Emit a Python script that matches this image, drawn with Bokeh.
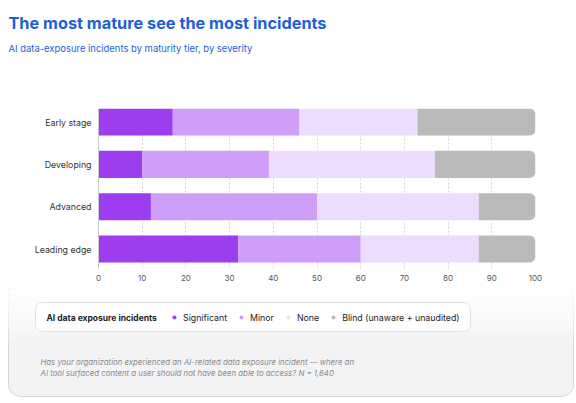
import numpy as np
from bokeh.plotting import figure
from bokeh.layouts import column
from bokeh.models import Range1d, FixedTicker, Legend, LegendItem, ColumnDataSource
from bokeh.core.properties import value
from bokeh.embed import file_html
from bokeh.resources import INLINE

tiers = ["Early stage", "Developing", "Advanced", "Leading edge"]
significant = [17, 10, 12, 32]
minor = [29, 29, 38, 28]
none_ = [27, 38, 37, 27]
blind = [27, 23, 13, 13]
series_names = ["Significant", "Minor", "None", "Blind (unaware + unaudited)"]
series_colors = ["#9d3df0", "#cf9ef9", "#eddcfd", "#bababa"]
x_ticks = [0, 10, 20, 30, 40, 50, 60, 70, 80, 90, 100]
title_text = "The most mature see the most incidents"
subtitle_text = "AI data-exposure incidents by maturity tier, by severity"
legend_title = "AI data exposure incidents"
note_lines = ["Has your organization experienced an AI-related data exposure incident \u2014 where an",
              "AI tool surfaced content a user should not have been able to access? N = 1,640"]

FONT = "Inter"
W = 576
TOP_H, MAIN_H, BOT_H = 95, 193, 115


def blank(h, y0):
    f = figure(width=W, height=h, output_backend="svg", toolbar_location=None,
               x_range=Range1d(0, W), y_range=Range1d(y0 + h, y0),
               x_axis_type=None, y_axis_type=None, frame_align=False,
               min_border=0, min_border_left=0, min_border_right=0,
               min_border_top=0, min_border_bottom=0)
    f.grid.visible = False
    f.outline_line_color = None
    f.background_fill_color = "white"
    f.border_fill_color = "white"
    return f


def txt(f, x, y, s, size, color, style="normal"):
    f.text(x=[x], y=[y], text=[s], text_font=value(FONT), text_font_size=value(size),
           text_font_style=style, text_color=color, text_baseline="middle",
           text_align="left")


# ---- header
top = blank(TOP_H, 0)
txt(top, 8, 22, title_text, "16.3px", "#1c5fd8", "bold")
txt(top, 8, 48, subtitle_text, "9.45px", "#1c5fd8")

# ---- main chart
p = figure(width=W, height=MAIN_H, output_backend="svg", toolbar_location=None,
           x_range=Range1d(0, 100), y_range=Range1d(-0.46, 3.32), frame_align=False,
           min_border_left=98, min_border_right=41, min_border_top=13,
           min_border_bottom=20)
p.outline_line_color = None
p.background_fill_color = "white"
p.border_fill_color = "white"

ypos = [len(tiers) - 1 - i for i in range(len(tiers))]
series = [significant, minor, none_, blind]
left = [0] * len(tiers)
for k, vals in enumerate(series):
    right = [l + v for l, v in zip(left, vals)]
    src = ColumnDataSource(dict(y=ypos, left=left, right=right))
    kw = {}
    if k == len(series) - 1:
        kw["border_radius"] = (0, 6, 6, 0)
    p.hbar(y="y", left="left", right="right", height=0.64, source=src,
           fill_color=series_colors[k], line_color=None, **kw)
    left = right

p.yaxis.ticker = FixedTicker(ticks=ypos)
p.yaxis.major_label_overrides = {y: t for y, t in zip(ypos, tiers)}
p.yaxis.major_tick_line_color = None
p.yaxis.major_tick_out = 0
p.yaxis.minor_tick_line_color = None
p.yaxis.axis_line_color = "#c8c8c8"
p.yaxis.major_label_text_font = FONT
p.yaxis.major_label_text_font_size = "8.8px"
p.yaxis.major_label_text_color = "#333333"
p.yaxis.major_label_standoff = 7

p.xaxis.ticker = FixedTicker(ticks=x_ticks)
p.xaxis.axis_line_color = None
p.xaxis.major_tick_line_color = None
p.xaxis.major_tick_out = 0
p.xaxis.minor_tick_line_color = None
p.xaxis.major_label_text_font = FONT
p.xaxis.major_label_text_font_size = "8px"
p.xaxis.major_label_text_color = "#555555"
p.xaxis.major_label_standoff = 6

p.ygrid.grid_line_color = None
p.xgrid.ticker = FixedTicker(ticks=x_ticks[1:])
p.xgrid.grid_line_color = "#d4d4d4"
p.xgrid.grid_line_dash = "2 2"

# ---- footer: card background, legend, note
bot = blank(BOT_H, TOP_H + MAIN_H)
y0 = TOP_H + MAIN_H
bot.quad(left=[8], right=[573], top=[y0 - 20], bottom=[396], fill_color="#f3f3f5",
         line_color="#d6d6d8", line_width=1, border_radius=(0, 0, 12, 12))
nb = 30
edges = np.linspace(y0, y0 + 60, nb + 1)
alphas = np.linspace(0.9, 0.0, nb)
bot.quad(left=0, right=W, top=edges[:-1], bottom=edges[1:] + 0.5,
         fill_color="white", fill_alpha=alphas, line_color=None)
bot.quad(left=[35], right=[470], top=[302], bottom=[331], fill_color="white",
         line_color="#e2e2e4", border_radius=7)
txt(bot, 46, 317, legend_title, "8.5px", "#222222", "bold")

# legend-only marker renderers (their single point lies outside the visible range)
items = []
for name, col in zip(series_names, series_colors):
    r = bot.scatter(x=[-100], y=[-100], marker="circle", size=7.5, fill_color=col,
                    line_color=None)
    items.append(LegendItem(label=name, renderers=[r]))
legend = Legend(items=items, orientation="horizontal", location=(169, 403 - 323),
                label_text_font=FONT, label_text_font_size="8.8px",
                label_text_color="#222222", label_standoff=4,
                glyph_width=10, glyph_height=12, spacing=9, padding=4,
                border_line_color=None, background_fill_alpha=0.0)
bot.add_layout(legend, "center")

txt(bot, 40, 361, note_lines[0], "7.8px", "#8a8a8a", "italic")
txt(bot, 40, 372, note_lines[1], "7.8px", "#8a8a8a", "italic")

layout = column(top, p, bot, spacing=0)
open("out.html", "w").write(file_html(layout, INLINE))
